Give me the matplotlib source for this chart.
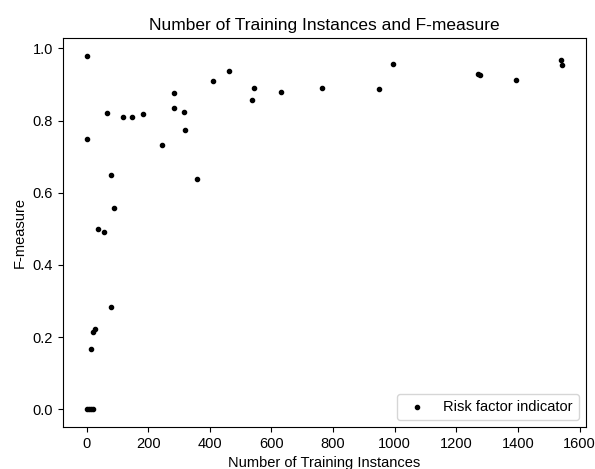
import matplotlib
matplotlib.use("Agg")
import matplotlib.pyplot as plt

plt.rcParams['font.family'] = ['Liberation Sans', 'DejaVu Sans']

# training instances per risk factor, and the F-measure reached
instances = [0, 7, 14, 21, 1, 2, 15, 22, 26, 38, 58, 66, 80, 80, 88,
             119, 149, 183, 244, 283, 284, 315, 320, 360, 410, 463,
             537, 542, 631, 764, 950, 994, 1272, 1276, 1393, 1540, 1544]
fmeasure = [0.0, 0.0, 0.0, 0.0, 0.980, 0.750, 0.166, 0.214, 0.222, 0.500,
            0.492, 0.822, 0.650, 0.283, 0.557,
            0.811, 0.811, 0.819, 0.732, 0.877, 0.834, 0.824, 0.773, 0.637,
            0.910, 0.937, 0.857, 0.891, 0.878, 0.889, 0.887, 0.956,
            0.930, 0.925, 0.912, 0.968, 0.955]

fig = plt.figure(figsize=(5.95, 4.69), dpi=100)
ax = fig.add_axes([0.1054, 0.0896, 0.8796, 0.8296])

ax.scatter(instances, fmeasure, c='black', s=9, label='Risk factor indicator')

ax.set_title('Number of Training Instances and F-measure', fontsize=12.5)
ax.set_xlabel('Number of Training Instances', fontsize=10.5)
ax.set_ylabel('F-measure', fontsize=10.5)
ax.tick_params(labelsize=10.5)
ax.legend(loc='lower right', fontsize=10.5, scatterpoints=1)

fig.savefig('out.png', dpi=100)
